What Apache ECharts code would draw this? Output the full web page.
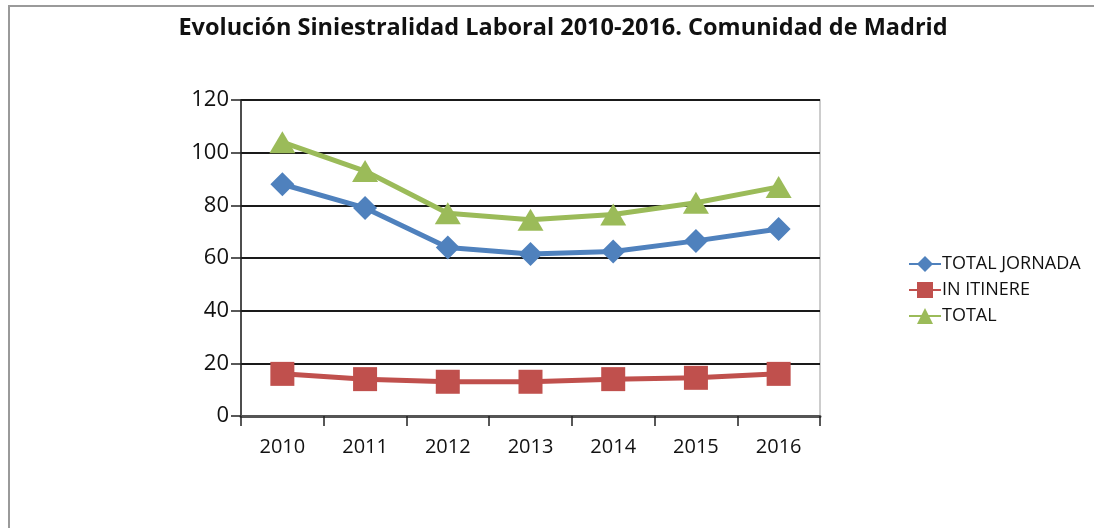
<!DOCTYPE html>
<html>
<head>
<meta charset="utf-8">
<script src="https://cdn.jsdelivr.net/npm/echarts@6/dist/echarts.min.js"></script>
<style>
  html, body { margin: 0; padding: 0; background: #fff; }
  #chart { width: 1094px; height: 528px; }
</style>
</head>
<body>
<div id="chart"></div>
<script>
// Siniestralidad laboral - Comunidad de Madrid

const years = ['2010', '2011', '2012', '2013', '2014', '2015', '2016'];
const totalJornada = [88, 79, 64, 61.5, 62.5, 66.5, 71];
const inItinere = [16, 14, 13, 13, 14, 14.5, 16];
const total = [104, 93, 77, 74.5, 76.5, 81, 87];
const yTicks = [0, 20, 40, 60, 80, 100, 120];

const FONT = 'Open Sans';

document.addEventListener('DOMContentLoaded', function() {
    const chart = echarts.init(document.getElementById('chart'));

    function lineSeries(name, data, color, symbol, size) {
        return {
            name: name,
            type: 'line',
            data: data,
            symbol: symbol,
            symbolSize: size,
            lineStyle: { color: color, width: 5 },
            itemStyle: { color: color },
            animation: false
        };
    }

    const option = {
        backgroundColor: '#fff',
        title: {
            text: 'Evolución Siniestralidad Laboral 2010-2016. Comunidad de Madrid',
            left: 558,
            textAlign: 'center',
            top: 11,
            textStyle: { fontFamily: FONT, fontSize: 23.5, fontWeight: 'bold', color: '#111' }
        },
        graphic: [{
            type: 'rect',
            shape: { x: 9, y: 6, width: 1200, height: 700 },
            style: { fill: 'none', stroke: '#9a9a9a', lineWidth: 2 },
            silent: true
        }],
        legend: {
            orient: 'vertical',
            left: 903,
            top: 250,
            itemWidth: 32,
            itemHeight: 20,
            itemGap: 8,
            textStyle: { fontFamily: FONT, fontSize: 18, color: '#111', padding: [0, 0, 0, -4] },
            data: ['TOTAL JORNADA', 'IN ITINERE', 'TOTAL']
        },
        grid: {
            left: 241,
            right: 274,
            top: 100,
            bottom: 112,
            show: true,
            borderColor: '#bdbdbd',
            borderWidth: 1.5
        },
        xAxis: {
            type: 'category',
            data: years,
            boundaryGap: true,
            axisLine: { lineStyle: { color: '#555', width: 3 } },
            axisTick: { show: true, interval: 0, length: 10, lineStyle: { color: '#222', width: 1.5 } },
            axisLabel: { fontFamily: FONT, fontSize: 20, color: '#111', margin: 21 }
        },
        yAxis: {
            type: 'value',
            min: yTicks[0],
            max: yTicks[yTicks.length - 1],
            interval: 20,
            axisLine: { show: true, lineStyle: { color: '#222', width: 1.5 } },
            axisTick: { show: true, length: 10, lineStyle: { color: '#222', width: 1.5 } },
            axisLabel: { fontFamily: FONT, fontSize: 22, color: '#111', margin: 12 },
            splitLine: { lineStyle: { color: '#1a1a1a', width: 2 } }
        },
        series: [
            lineSeries('TOTAL JORNADA', totalJornada, '#4F81BD', 'diamond', [24, 24]),
            lineSeries('IN ITINERE', inItinere, '#C0504D', 'rect', 24),
            lineSeries('TOTAL', total, '#9BBB59', 'triangle', [26, 22])
        ]
    };

    chart.setOption(option);
});
</script>
</body>
</html>
